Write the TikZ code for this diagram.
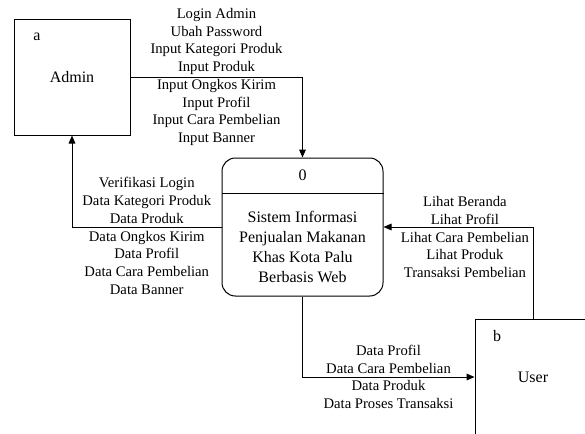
\documentclass[tikz,border=0pt]{standalone}
\usepackage{fontspec}
\setmainfont{Liberation Serif}
\usetikzlibrary{arrows.meta, positioning}

\tikzset{
    entity/.style={draw, minimum width=87pt, minimum height=87pt, inner sep=0pt, font=\fontsize{12}{15}\selectfont},
    process/.style={draw, rounded corners=10pt, minimum width=120.75pt, minimum height=103.5pt, inner sep=0pt},
    bigtext/.style={align=center, inner sep=0pt, font=\fontsize{12}{15}\selectfont},
    flow/.style={-{Triangle[length=6pt, width=5pt]}},
    flowlabel/.style={align=center, inner sep=0pt, font=\fontsize{11}{13.3}\selectfont},
}

\begin{document}
\begin{tikzpicture}[x=0.75pt, y=-0.75pt, line width=0.75pt]
        \useasboundingbox (0,0) rectangle (585,433);
        \clip (0,0) rectangle (585,433);

        % external entities
        \node[entity] (admin) at (72,77) {Admin};
        \node[bigtext] (adminid) at (37,37) {a};
        \node[entity] (user) at (533,377) {User};
        \node[bigtext] (userid) at (497,336) {b};

        % process
        \node[process] (proc) at (302.5,227) {};
        \node[bigtext] (procid) at (302.5,175) {0};
        \node[bigtext] (procname) at (302.5,247) {Sistem Informasi\\Penjualan Makanan\\Khas Kota Palu\\Berbasis Web};
        \draw (proc.west |- 0,193) -- (proc.east |- 0,193);

        % data flows
        \draw[flow] (admin.east) -| node[flowlabel, pos=0.25] {Login Admin\\Ubah Password\\Input Kategori Produk\\Input Produk\\Input Ongkos Kirim\\Input Profil\\Input Cara Pembelian\\Input Banner} (proc.north);
        \draw[flow] (proc.west) -| node[flowlabel, pos=0.25, yshift=-6.75pt] {Verifikasi Login\\Data Kategori Produk\\Data Produk\\Data Ongkos Kirim\\Data Profil\\Data Cara Pembelian\\Data Banner} (admin.south);
        \draw[flow] (user.north) |- node[flowlabel, pos=0.75, xshift=5pt, yshift=-7.5pt] {Lihat Beranda\\Lihat Profil\\Lihat Cara Pembelian\\Lihat Produk\\Transaksi Pembelian} (proc.east);
        \draw[flow] (proc.south) |- node[flowlabel, pos=0.75] {Data Profil\\Data Cara Pembelian\\Data Produk\\Data Proses Transaksi} (user.west);
\end{tikzpicture}
\end{document}
